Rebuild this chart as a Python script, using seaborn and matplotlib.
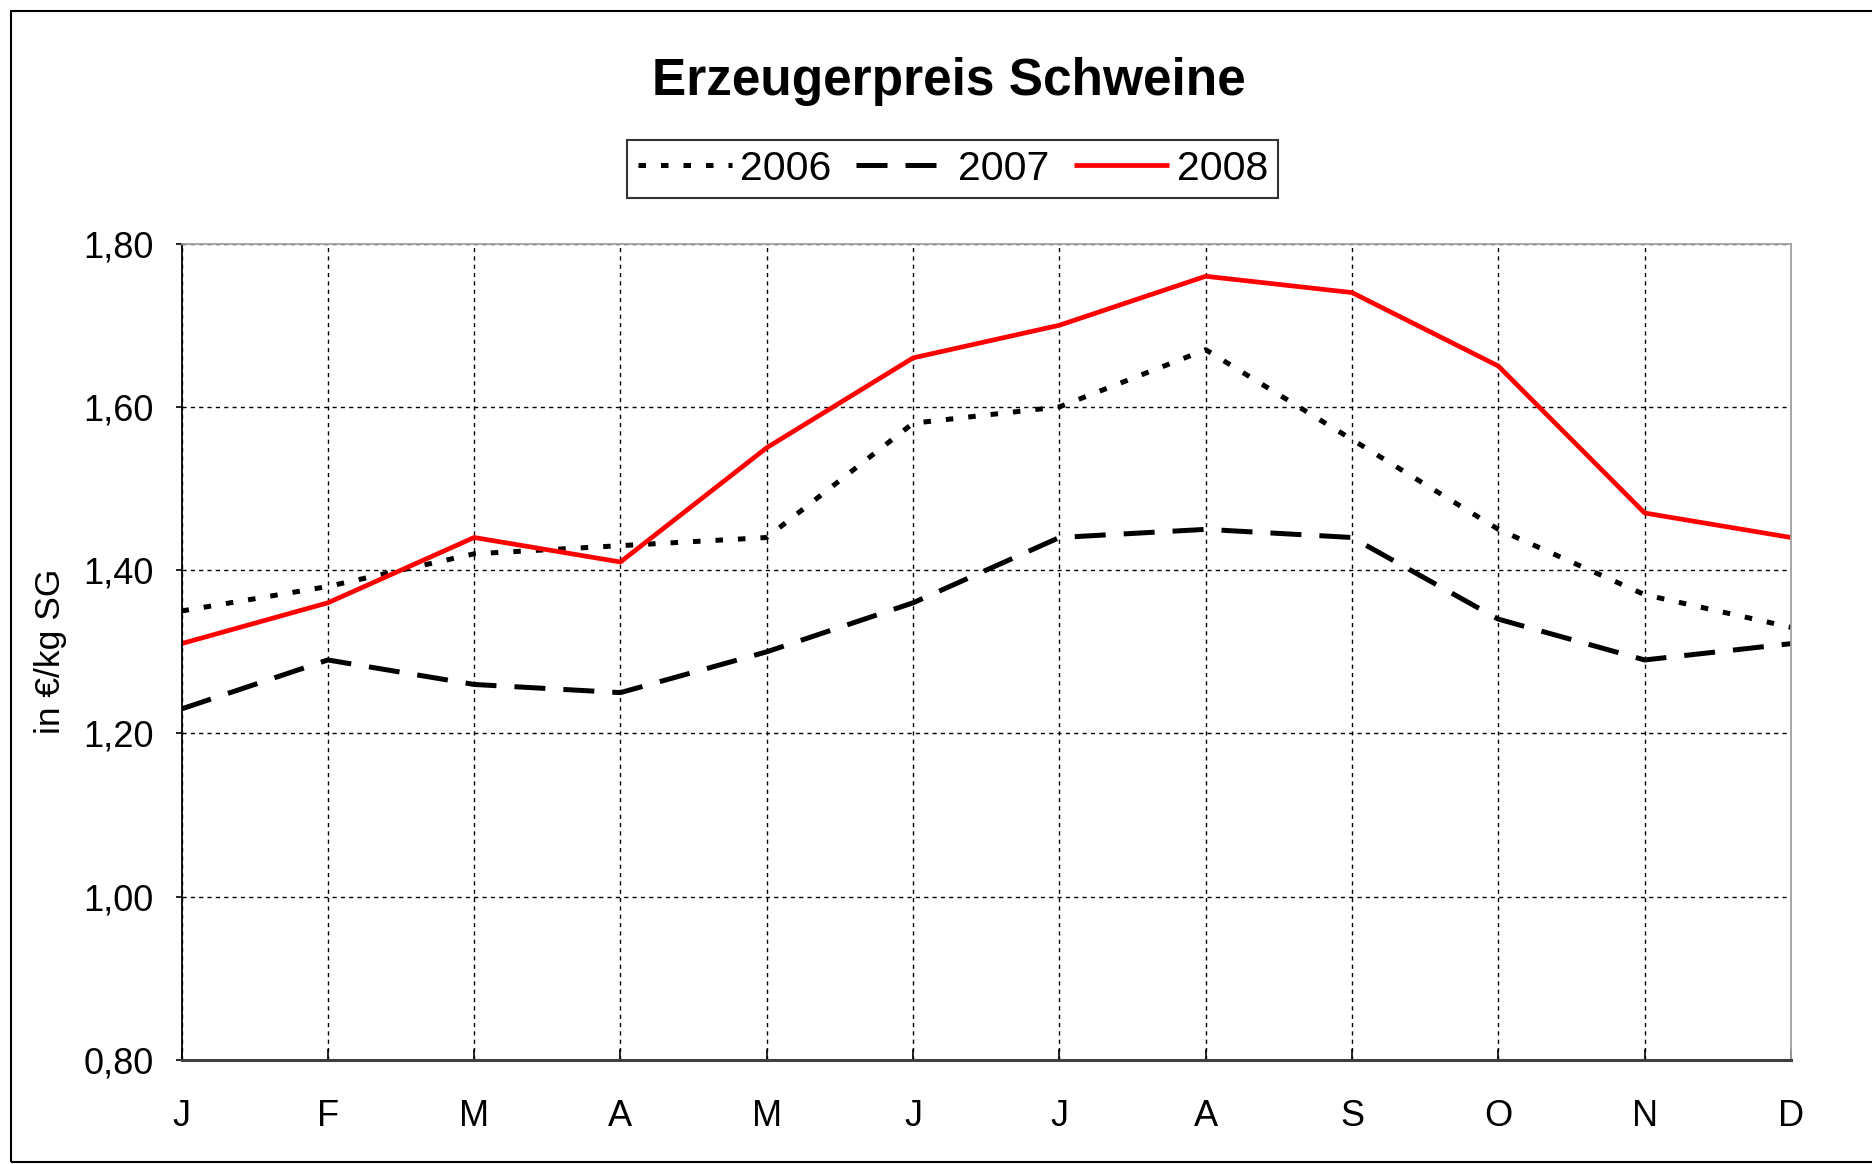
import matplotlib
matplotlib.use("Agg")
import matplotlib.pyplot as plt
from matplotlib.patches import Rectangle
from matplotlib.ticker import FuncFormatter
import numpy as np
import pandas as pd
import seaborn as sns

# monthly producer prices (EUR/kg carcass weight)
months = ['J', 'F', 'M', 'A', 'M', 'J', 'J', 'A', 'S', 'O', 'N', 'D']
years = ['2006', '2007', '2008']
price_2006 = [1.35, 1.38, 1.42, 1.43, 1.44, 1.58, 1.60, 1.67, 1.56, 1.45, 1.37, 1.33]
price_2007 = [1.23, 1.29, 1.26, 1.25, 1.30, 1.36, 1.44, 1.45, 1.44, 1.34, 1.29, 1.31]
price_2008 = [1.31, 1.36, 1.44, 1.41, 1.55, 1.66, 1.70, 1.76, 1.74, 1.65, 1.47, 1.44]
yticks = [0.80, 1.00, 1.20, 1.40, 1.60, 1.80]

df = pd.DataFrame({
    'month': np.tile(np.arange(len(months)), len(years)),
    'year': np.repeat(years, len(months)),
    'price': price_2006 + price_2007 + price_2008,
})

sns.set_theme(style="white")
plt.rcParams['font.family'] = ['Liberation Sans', 'DejaVu Sans']
for key in ['text.color', 'axes.labelcolor', 'xtick.color', 'ytick.color']:
    plt.rcParams[key] = 'black'

fig = plt.figure(figsize=(18.72, 11.64), dpi=100)
ax = fig.add_axes([181.5 / 1872, 1 - 1060 / 1164, (1791 - 181.5) / 1872, (1060 - 243.6) / 1164])

styles = {
    '2006': dict(color='black', lw=3.6, linestyle=(0, (1.5, 3.0))),
    '2007': dict(color='black', lw=3.6, linestyle=(0, (6.2, 3.6))),
    '2008': dict(color='#ff0000', lw=3.4, linestyle='-'),
}
for yr in years:
    sns.lineplot(data=df[df['year'] == yr], x='month', y='price', ax=ax,
                 label=yr, solid_capstyle='butt', dash_capstyle='butt', **styles[yr])

ax.set_xlim(0, len(months) - 1)
ax.set_ylim(0.8, 1.8)
ax.set_xticks(range(len(months)))
ax.set_xticklabels(months)
ax.set_yticks(yticks)
ax.yaxis.set_major_formatter(FuncFormatter(lambda v, p: f"{v:.2f}".replace('.', ',')))
ax.set_xlabel('')
ax.set_ylabel('in €/kg SG', fontsize=25.5, labelpad=12)

ax.grid(True, color='black', lw=1.0, linestyle=(0, (3, 3)))
ax.tick_params(axis='x', direction='in', length=8, width=1.2, color='black',
               labelsize=26, pad=28, bottom=True)
ax.tick_params(axis='y', direction='out', length=4, width=1.2, color='black',
               labelsize=26, pad=16, left=True)

for side in ['top', 'right']:
    ax.spines[side].set_color('#a0a0a0')
    ax.spines[side].set_linewidth(1.3)
ax.spines['left'].set_color('black')
ax.spines['left'].set_linewidth(1.3)
ax.spines['bottom'].set_color('#404040')
ax.spines['bottom'].set_linewidth(2.2)

ax.legend_.remove()
handles, labels = ax.get_legend_handles_labels()
leg = fig.legend(handles, labels, loc='center', bbox_to_anchor=(0.509, 0.855),
                 ncol=3, fontsize=29.5, frameon=True, fancybox=False,
                 edgecolor='black', handlelength=2.3, handletextpad=0.2,
                 columnspacing=0.6, borderpad=0.25, borderaxespad=0)
leg.get_frame().set_linewidth(1.5)

fig.text(0.507, 0.930, 'Erzeugerpreis Schweine', ha='center', va='center',
         fontsize=37, fontweight='bold')

fig.patches.append(Rectangle((11 / 1872, 2 / 1164), 1.0, 1 - 13 / 1164,
                             transform=fig.transFigure, fill=False,
                             edgecolor='black', lw=1.5))

fig.savefig('out.png', dpi=100)
